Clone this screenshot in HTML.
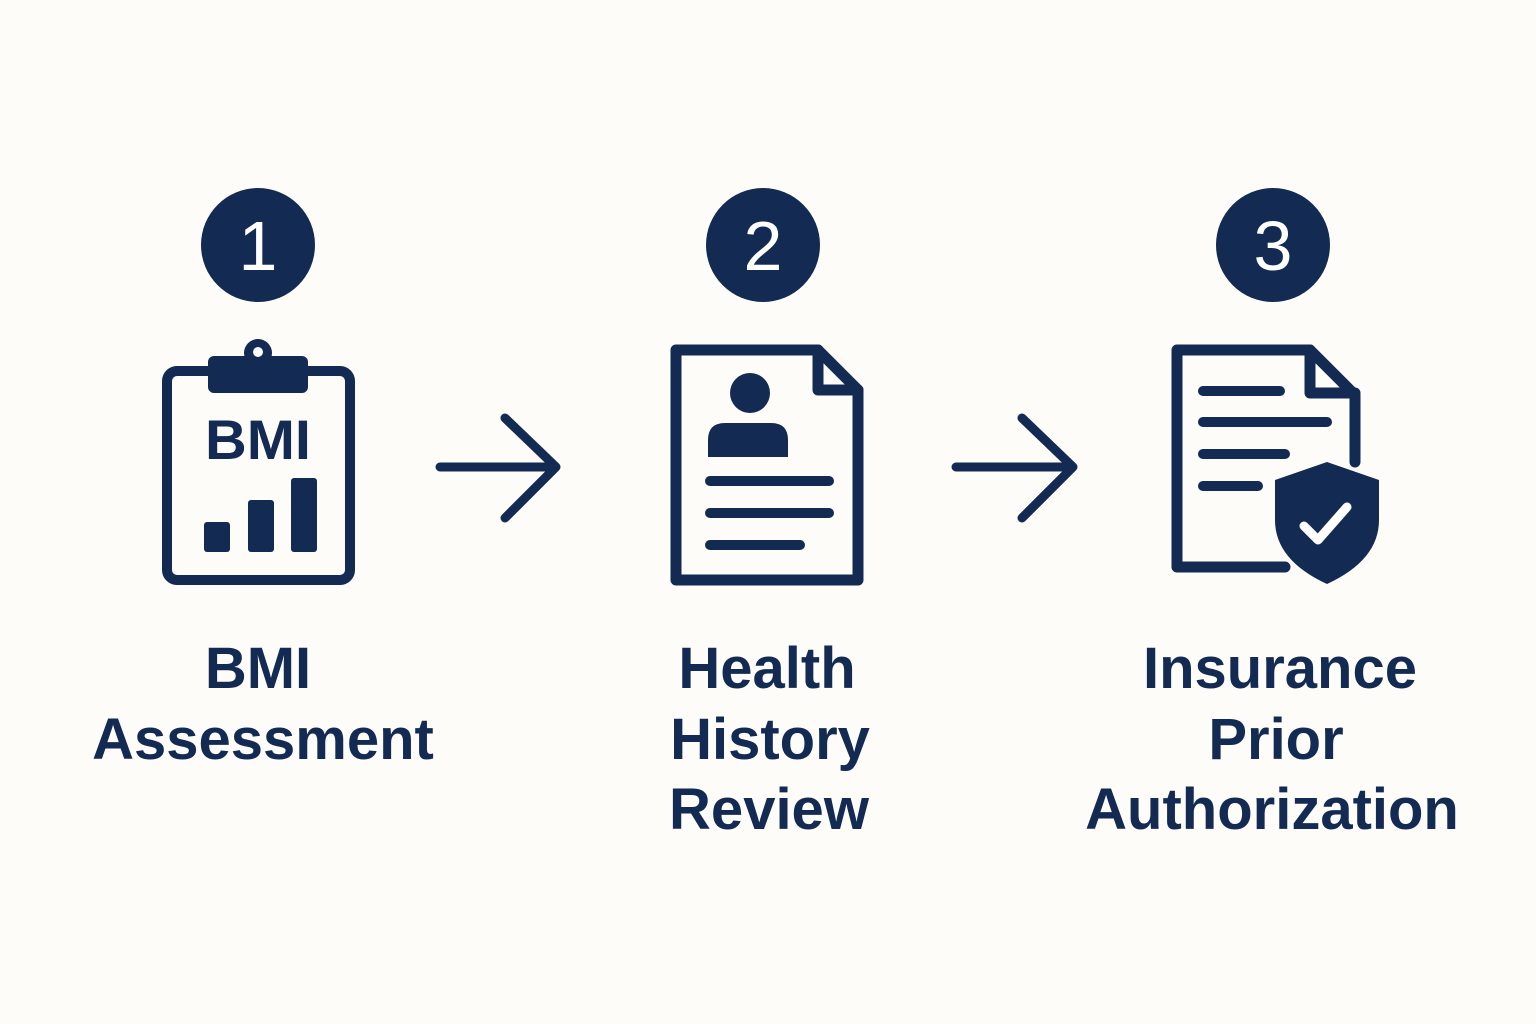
<!DOCTYPE html>
<html><head><meta charset="utf-8"><style>
html,body{margin:0;padding:0;background:#fdfcf8;}
svg{display:block;}
text{font-family:"Liberation Sans",sans-serif;font-weight:bold;fill:#132a52;}
</style></head><body>
<svg width="1536" height="1024" viewBox="0 0 1536 1024" xmlns="http://www.w3.org/2000/svg">
<rect width="1536" height="1024" fill="#fdfcf8"/>
<g fill="#132a52">
<circle cx="258" cy="245" r="57"/><circle cx="763" cy="245" r="57"/><circle cx="1273" cy="245" r="57"/>
</g>
<g font-size="70" text-anchor="middle">
<text x="258" y="270" style="fill:#fff;font-weight:normal">1</text>
<text x="763" y="270" style="fill:#fff;font-weight:normal">2</text>
<text x="1273" y="270" style="fill:#fff;font-weight:normal">3</text>
</g>
<g stroke="#132a52" fill="none" stroke-width="10" stroke-linecap="round" stroke-linejoin="round">
<rect x="167" y="371" width="183" height="209" rx="10"/>
<path d="M440 467H556M505 418L556 467L505 518" stroke-width="9"/>
<path d="M956 467H1073M1022 418L1073 467L1022 518" stroke-width="9"/>
<path d="M676 350H818L858 390V580H676Z" stroke-width="11"/>
<path d="M818 350V390H858" stroke-width="11"/>
<path d="M710 481H829M710 513H829M710 545H800" stroke-width="10"/>
<path d="M1285 567H1177V350H1310L1355 395V462" stroke-width="11"/>
<path d="M1310 350V393H1355" stroke-width="11"/>
<path d="M1203 391H1280M1203 422H1327M1203 454H1285M1203 486H1258" stroke-width="10"/>
</g>
<g fill="#132a52">
<rect x="208" y="356" width="100" height="37" rx="6"/>
<circle cx="258" cy="353" r="14"/>
<rect x="204" y="522" width="26" height="30" rx="3"/>
<rect x="248" y="500" width="26" height="52" rx="3"/>
<rect x="291" y="478" width="26" height="74" rx="3"/>
<circle cx="750" cy="393" r="20"/>
<path d="M708 457V440Q708 423 725 423H771Q788 423 788 440V457Z"/>
<path d="M1327 462L1379 480V520Q1379 560 1327 584Q1275 560 1275 520V480Z"/>
</g>
<circle cx="258" cy="352" r="5" fill="#fdfcf8"/>
<path d="M1304 526L1318 540L1347 507" stroke="#fff" stroke-width="9" fill="none" stroke-linecap="round" stroke-linejoin="round"/>
<text x="258" y="459" font-size="56" text-anchor="middle" textLength="106" lengthAdjust="spacingAndGlyphs">BMI</text>
<g font-size="58" text-anchor="middle">
<text x="258" y="688">BMI</text>
<text x="263" y="759">Assessment</text>
<text x="767" y="688">Health</text>
<text x="770" y="759">History</text>
<text x="769" y="829">Review</text>
<text x="1280" y="688">Insurance</text>
<text x="1276" y="759">Prior</text>
<text x="1272" y="829">Authorization</text>
</g>
</svg>
</body></html>
